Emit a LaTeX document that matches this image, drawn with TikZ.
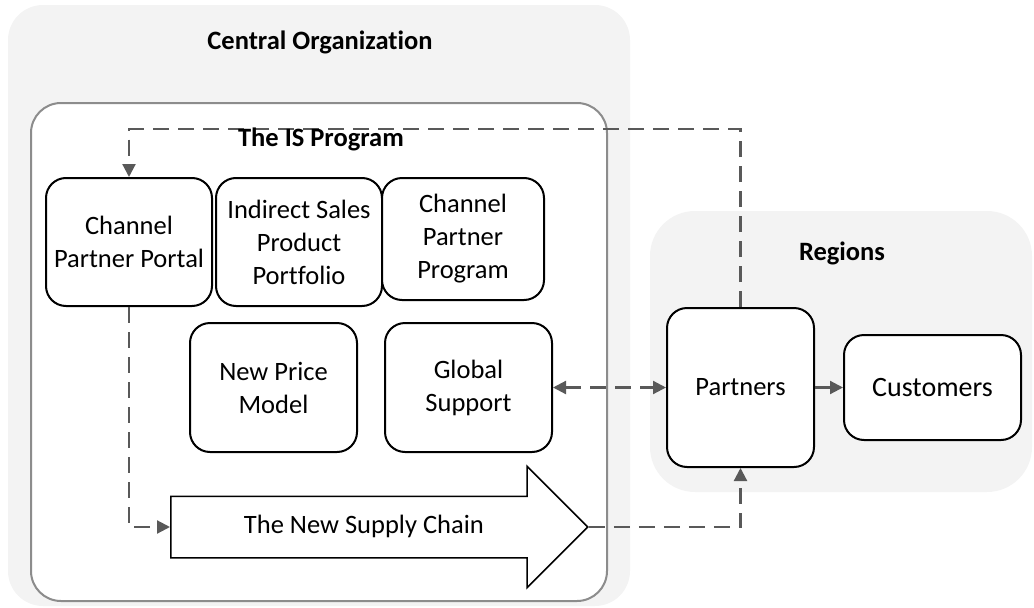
\documentclass[tikz,border=0pt]{standalone}
\usepackage{fontspec}
\setmainfont{Carlito}[Ligatures=NoCommon]
\usepackage{tikz}
\usetikzlibrary{shapes,arrows.meta,positioning}

\definecolor{groupgray}{RGB}{243,243,243}
\definecolor{framegray}{RGB}{140,140,140}
\definecolor{linegray}{RGB}{89,89,89}

\begin{document}
\begin{tikzpicture}[
    x=1pt, y=-1pt,
    >={Triangle[length=13pt,width=13pt]},
    every node/.style={font=\fontsize{26.5}{33}\selectfont},
    group/.style={rectangle, rounded corners=35pt, fill=groupgray, inner sep=0pt},
    title/.style={font=\fontsize{26.5}{33}\selectfont\bfseries, anchor=base},
    box/.style={rectangle, draw, line width=2pt, rounded corners=20pt, fill=white, align=center, inner sep=0pt},
    dline/.style={->, draw=linegray, line width=2.2pt, dash pattern=on 16pt off 9pt},
    arrow/.style={->, draw=linegray, line width=2.2pt}
]
\useasboundingbox (0,0) rectangle (1034,608);

% groups
\node[group, minimum width=622pt, minimum height=601pt] (central) at (319,305.5) {};
\node[group, rounded corners=45pt, minimum width=382pt, minimum height=281pt] (regions) at (841,351.5) {};
\node[rectangle, draw=framegray, line width=2pt, rounded corners=30pt, fill=white,
      minimum width=576pt, minimum height=498pt] (isprog) at (319,352) {};
\node[title] (centraltitle) at (320,49) {Central Organization};
\node[title] (regionstitle) at (842,260) {Regions};

% the IS program
\node[box, minimum width=166pt, minimum height=128pt] (portal) at (129,242) {Channel\\Partner Portal};
\node[box, minimum width=166pt, minimum height=128pt, right=2pt of portal] (portfolio) {Indirect Sales\\Product\\Portfolio};
\node[box, minimum width=162pt, minimum height=122pt] (program) at (463,239) {Channel\\Partner\\Program};
\node[box, minimum width=167pt, minimum height=129pt] (price) at (273.5,387.5) {New Price\\Model};
\node[box, minimum width=167pt, minimum height=129pt, right=26pt of price] (support) {Global\\Support};
\node[single arrow, draw, line width=1.5pt, fill=white, anchor=tail, inner xsep=0pt, inner ysep=18pt,
      text height=18pt, text depth=6pt, minimum height=417pt, single arrow head extend=30pt] (supply) at (170,527) {The New Supply Chain};

% regions
\node[box, minimum width=147pt, minimum height=159pt] (partners) at (740.5,387.5) {Partners};
\node[box, minimum width=177pt, minimum height=105pt, font=\fontsize{28}{34}\selectfont, right=28pt of partners] (customers) {Customers};

\coordinate (looptop) at (0,129);
\draw[dline] (partners.north) -- (partners.north |- looptop) -| (portal.north);
\draw[dline] (portal.south) |- (supply.tail);
\draw[dline] (supply.tip) -| (partners.south);
\draw[dline, <->] (support) -- (partners);
\draw[arrow] (partners) -- (customers);

\node[title] (istitle) at (321,146) {The IS Program};
\end{tikzpicture}
\end{document}
